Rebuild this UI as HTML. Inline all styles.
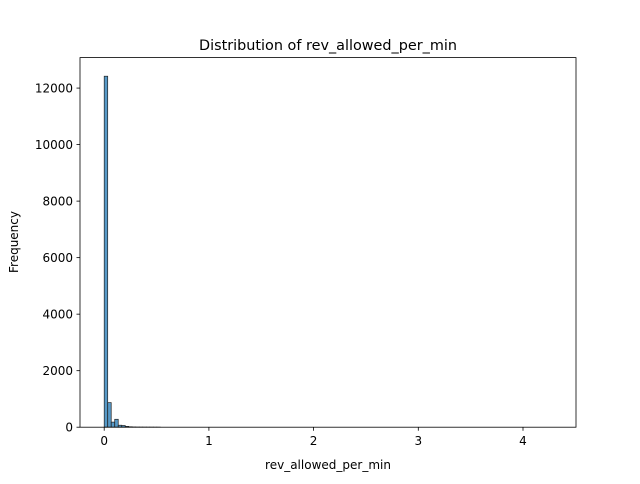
<!DOCTYPE html>
<html><head><meta charset="utf-8"><style>
body{margin:0;background:#fff;font-family:"DejaVu Sans","Liberation Sans",sans-serif;}
</style></head><body>
<svg id="chart" width="640" height="480" xmlns="http://www.w3.org/2000/svg" font-family="DejaVu Sans, Liberation Sans, sans-serif">
<rect width="640" height="480" fill="#fff"/>
<g id="bars"></g>
<rect x="80" y="57.6" width="496" height="369.6" fill="none" stroke="#000" stroke-width="0.8"/>
<g id="ticks"></g>
<text x="328" y="50" text-anchor="middle" font-size="14.4">Distribution of rev_allowed_per_min</text>
<text x="328" y="469" text-anchor="middle" font-size="12">rev_allowed_per_min</text>
<text x="18" y="242" text-anchor="middle" font-size="12" transform="rotate(-90 18 242)">Frequency</text>
</svg>
<script>
const binStart = 0;
const binWidth = 0.0335;
const counts = [12420, 870, 180, 280, 70, 60, 30, 15, 8, 5, 4, 3, 2, 2, 1, 1];
const totalBins = 128;
const xTicks = [0, 1, 2, 3, 4];
const yTicks = [0, 2000, 4000, 6000, 8000, 10000, 12000];
const NS = "http://www.w3.org/2000/svg";
function xs(v){return 104.2 + v*104.7;}
function ys(v){return 427.2 - v*0.02826;}
const bars = document.getElementById('bars');
for (let i=0;i<totalBins;i++){
  const c = i<counts.length ? counts[i] : 0;
  const x0 = xs(binStart+i*binWidth), x1 = xs(binStart+(i+1)*binWidth);
  const r = document.createElementNS(NS,'rect');
  r.setAttribute('x',x0); r.setAttribute('width',x1-x0);
  r.setAttribute('y',ys(c)); r.setAttribute('height',Math.max(0,ys(0)-ys(c)));
  r.setAttribute('fill','rgba(31,119,180,0.75)'); r.setAttribute('stroke','#222'); r.setAttribute('stroke-width','0.7');
  
  
  bars.appendChild(r);
}
const ticks = document.getElementById('ticks');
xTicks.forEach(t=>{
  const l=document.createElementNS(NS,'line');
  l.setAttribute('x1',xs(t));l.setAttribute('x2',xs(t));l.setAttribute('y1',427.2);l.setAttribute('y2',430.7);l.setAttribute('stroke','#000');l.setAttribute('stroke-width','0.8');
  
  
  ticks.appendChild(l);
  const tx=document.createElementNS(NS,'text');
  tx.setAttribute('x',xs(t));tx.setAttribute('y',445);tx.setAttribute('text-anchor','middle');tx.setAttribute('font-size','12');tx.textContent=t;
  
  
  ticks.appendChild(tx);
});
yTicks.forEach(t=>{
  const l=document.createElementNS(NS,'line');
  l.setAttribute('x1',76.5);l.setAttribute('x2',80);l.setAttribute('y1',ys(t));l.setAttribute('y2',ys(t));l.setAttribute('stroke','#000');l.setAttribute('stroke-width','0.8');
  
  
  ticks.appendChild(l);
  const tx=document.createElementNS(NS,'text');
  tx.setAttribute('x',73);tx.setAttribute('y',ys(t)+4.3);tx.setAttribute('text-anchor','end');tx.setAttribute('font-size','12');tx.textContent=t;
  
  
  ticks.appendChild(tx);
});
</script>
</body></html>
